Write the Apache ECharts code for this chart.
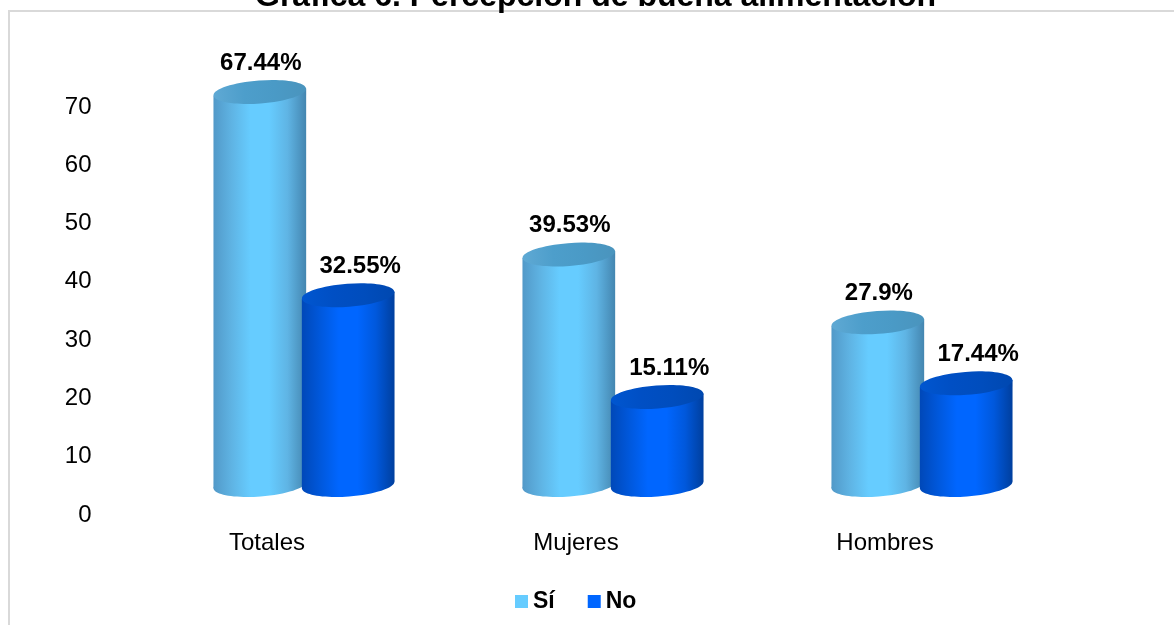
<!DOCTYPE html>
<html>
<head>
<meta charset="utf-8">
<style>html,body{margin:0;padding:0;background:#fff}#chart{width:1174px;height:625px}</style>
<script src="https://cdn.jsdelivr.net/npm/echarts@6/dist/echarts.min.js"></script>
</head>
<body>
<div id="chart"></div>
<script>
const categories = ['Totales', 'Mujeres', 'Hombres'];
const siValues = [67.44, 39.53, 27.9];
const noValues = [32.55, 15.11, 17.44];
const yTicks = [0, 10, 20, 30, 40, 50, 60, 70];

const FONT = '"Liberation Sans", Arial, sans-serif';

// Horizontal shading that gives each column its rounded look
function shade(stops) {
  return {
    type: 'linear', x: 0, y: 0, x2: 1, y2: 0,
    colorStops: stops.map((c, i) => ({ offset: i / (stops.length - 1), color: c }))
  };
}

const cylinderStyles = {
  si: {
    body: shade(['#5299c8', '#5fb4e4', '#66ccff', '#66ccff', '#5fb4e4', '#4486b0']),
    top: shade(['#5fa9d4', '#4d9ecb', '#4a9ac6', '#4a94bd']),
    labelShift: 1, barShift: -0.143
  },
  no: {
    body: shade(['#0048b8', '#0058dc', '#0066ff', '#0066ff', '#0058dc', '#003f9e']),
    top: shade(['#0056d0', '#004fc4', '#004dbd', '#0048b0']),
    labelShift: 12, barShift: 0.143
  }
};

const BAR_RATIO = 0.3;   // column width as a share of the category band
const CAP_RY = 11.5;     // vertical radius of the column's end ellipses
const TILT = 0.075;      // slight perspective lean of the ellipses, radians
const LABEL_GAP = 29;    // distance from column top to its value label

function cylinderRenderer(style) {
  return function (params, api) {
    const idx = api.value(0);
    const value = api.value(1);
    const band = api.size([1, 0])[0];
    const top = api.coord([idx, value]);
    const base = api.coord([idx, 0]);
    const rx = band * BAR_RATIO / 2;
    const lean = rx * Math.sin(TILT);
    const cx = top[0] + style.barShift * band;
    return {
      type: 'group',
      children: [
        {
          type: 'ellipse',
          shape: { cx: cx, cy: base[1], rx: rx, ry: CAP_RY },
          rotation: TILT, originX: cx, originY: base[1],
          style: { fill: style.body }
        },
        {
          type: 'polygon',
          shape: { points: [
            [cx - rx, top[1] + lean], [cx + rx, top[1] - lean],
            [cx + rx, base[1] - lean], [cx - rx, base[1] + lean]
          ] },
          style: { fill: style.body }
        },
        {
          type: 'ellipse',
          shape: { cx: cx, cy: top[1], rx: rx, ry: CAP_RY },
          rotation: TILT, originX: cx, originY: top[1],
          style: { fill: style.top }
        },
        {
          type: 'text',
          style: {
            x: cx + style.labelShift, y: top[1] - LABEL_GAP,
            text: value + '%',
            align: 'center', verticalAlign: 'middle',
            font: 'bold 24px ' + FONT, fill: '#000'
          }
        }
      ]
    };
  };
}

function cylinderSeries(name, values, color, style) {
  return {
    type: 'custom', name: name, xAxisIndex: 1, yAxisIndex: 1,
    data: values.map((v, i) => [i, v]),
    encode: { x: 0, y: 1 },
    clip: false,
    itemStyle: { color: color },
    renderItem: cylinderRenderer(style)
  };
}

const chart = echarts.init(document.getElementById('chart'), null, { renderer: 'canvas' });
chart.setOption({
  animation: false,
  backgroundColor: '#fff',
  title: {
    text: 'Gráfica 6. Percepción de buena alimentación',
    left: 250, top: -24,
    textStyle: { fontFamily: FONT, fontWeight: 'bold', fontSize: 32, color: '#000' }
  },
  graphic: [{
    type: 'polyline', silent: true, z: -1,
    shape: { points: [[9, 625], [9, 11], [1174, 11]] },
    style: { stroke: '#d9d9d9', lineWidth: 2, fill: null }
  }],
  legend: {
    data: [
      { name: 'Sí', itemStyle: { color: '#66ccff' } },
      { name: 'No', itemStyle: { color: '#0066ff' } }
    ],
    icon: 'rect', itemWidth: 13, itemHeight: 13, itemGap: 33,
    left: 510, top: 585,
    textStyle: { fontFamily: FONT, fontWeight: 'bold', fontSize: 23, color: '#000' }
  },
  grid: [
    // Scale and category labels
    { left: 112.5, width: 927, top: 107, height: 408 },
    // Columns stand on a floor raised above the printed zero line
    { left: 149.5, width: 927, top: 77, height: 408 }
  ],
  xAxis: [
    {
      type: 'category', gridIndex: 0, data: categories,
      axisLine: { show: false }, axisTick: { show: false },
      axisLabel: { margin: 16, fontFamily: FONT, fontSize: 24, color: '#000' }
    },
    { type: 'category', gridIndex: 1, data: categories, show: false }
  ],
  yAxis: [
    {
      type: 'value', gridIndex: 0,
      min: yTicks[0], max: yTicks[yTicks.length - 1], interval: yTicks[1] - yTicks[0],
      axisLine: { show: false }, axisTick: { show: false }, splitLine: { show: false },
      axisLabel: { margin: 21, fontFamily: FONT, fontSize: 24, color: '#000' }
    },
    {
      type: 'value', gridIndex: 1,
      min: yTicks[0], max: yTicks[yTicks.length - 1], show: false, splitLine: { show: false }
    }
  ],
  series: [
    cylinderSeries('Sí', siValues, '#66ccff', cylinderStyles.si),
    cylinderSeries('No', noValues, '#0066ff', cylinderStyles.no)
  ]
});
</script>
</body>
</html>
